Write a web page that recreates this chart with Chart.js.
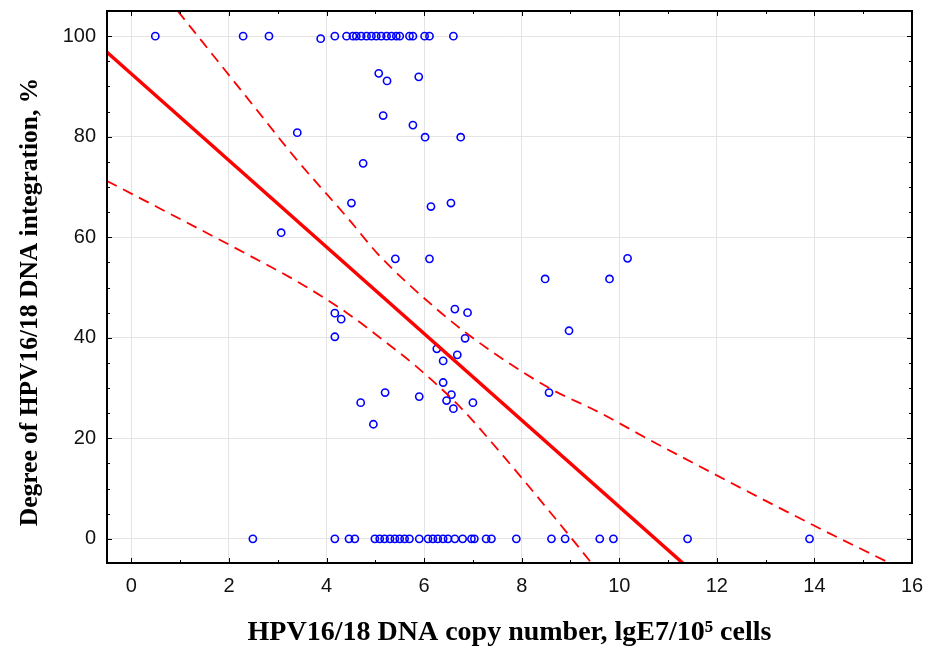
<!DOCTYPE html>
<html>
<head>
<meta charset="utf-8">
<script src="https://cdn.jsdelivr.net/npm/chart.js@4.4.1/dist/chart.umd.min.js"></script>
<style>
    html, body { margin: 0; padding: 0; background: #ffffff; }
    canvas { display: block; }
</style>
</head>
<body>
<canvas id="chart-scatter" width="932" height="653"></canvas>
<script>
// Puntos: número de copias (lg) vs. grado de integración (%)
const copyNumber = [
    // fila superior (100 %)
    0.49, 2.29, 2.82, 3.88, 4.17, 4.41, 4.54, 4.61, 4.71, 4.82, 4.92, 5.02, 5.12, 5.23, 5.33, 5.43, 5.50, 5.70, 5.77, 6.01, 6.11, 6.60,
    // fila inferior (0 %)
    2.49, 4.17, 4.46, 4.58, 4.99, 5.09, 5.19, 5.30, 5.40, 5.50, 5.60, 5.70, 5.90, 6.08, 6.18, 6.28, 6.39, 6.49, 6.63, 6.79, 6.97, 7.03, 7.27, 7.38, 7.89, 8.61, 8.89, 9.60, 9.88, 11.40, 13.90,
    // zona media
    5.07, 5.24, 5.89, 5.16, 5.77, 6.02, 6.75, 3.40, 4.75, 4.51, 6.14, 6.55, 3.07, 5.41, 6.11, 8.48, 6.63, 6.89, 4.17,
    4.30, 4.17, 6.84, 6.26, 6.68, 6.39, 6.39, 6.56, 5.20, 5.90, 6.46, 7.00, 4.70, 6.60, 4.96, 8.56, 9.80, 10.17, 8.97
];
const integration = [
    100, 100, 100, 99.5, 100, 100, 100, 100, 100, 100, 100, 100, 100, 100, 100, 100, 100, 100, 100, 100, 100, 100,
    0, 0, 0, 0, 0, 0, 0, 0, 0, 0, 0, 0, 0, 0, 0, 0, 0, 0, 0, 0, 0, 0, 0, 0, 0, 0, 0, 0, 0, 0, 0,
    92.6, 91.1, 91.9, 84.2, 82.3, 79.9, 79.9, 80.8, 74.7, 66.8, 66.1, 66.8, 60.9, 55.7, 55.7, 51.7, 45.7, 45.0, 44.9,
    43.7, 40.2, 39.9, 37.8, 36.6, 35.4, 31.1, 28.7, 29.1, 28.3, 27.5, 27.1, 27.1, 25.9, 22.8, 29.1, 51.7, 55.8, 41.4
];

// Recta de regresión
const fitX = [-0.5, 11.3];
const fitY = [96.8, -4.8];

// Bandas de confianza
const upperX = [0.95, 2.49, 3.39, 4.47, 5.03, 5.70, 6.87, 8.51, 9.60, 10.62, 13.96, 15.54];
const upperY = [105, 86.3, 75.4, 63.4, 56.9, 50.5, 40.9, 30.3, 25.1, 19.7, 2.8, -4.8];
const lowerX = [-0.5, 2.47, 3.45, 4.41, 5.15, 5.85, 6.73, 7.34, 8.88, 9.43];
const lowerY = [71.2, 56.1, 50.9, 45.0, 39.6, 34.2, 26.3, 19.7, 1.8, -4.8];

// Ejes
const xTickValues = [0, 2, 4, 6, 8, 10, 12, 14, 16];
const yTickValues = [0, 20, 40, 60, 80, 100];
const xTitle = 'HPV16/18 DNA copy number, lgE7/10\u2075 cells';
const yTitle = 'Degree of HPV16/18 DNA integration, %';

function toPoints(xs, ys) {
    return xs.map((x, i) => ({ x: x, y: ys[i] }));
}

const tickFont = { family: "'Liberation Sans', Arial, sans-serif", size: 20 };
const titleFamily = "'Liberation Serif', 'Times New Roman', serif";

// Marco, marcas menores hacia dentro y título vertical
const frameTicks = {
    id: 'frameTicks',
    afterDatasetsDraw(chart) {
        const ctx = chart.ctx;
        const a = chart.chartArea;
        const x = chart.scales.x;
        const y = chart.scales.y;
        ctx.save();
        ctx.strokeStyle = '#000000';
        ctx.lineWidth = 1;
        ctx.beginPath();
        for (let v = Math.ceil(x.min); v <= x.max; v++) {
            const px = Math.round(x.getPixelForValue(v)) + 0.5;
            const len = v % 2 === 0 ? 5 : 3;
            ctx.moveTo(px, a.bottom); ctx.lineTo(px, a.bottom - len);
            ctx.moveTo(px, a.top); ctx.lineTo(px, a.top + len);
        }
        for (let v = Math.ceil(y.min / 5) * 5; v <= y.max; v += 5) {
            const py = Math.round(y.getPixelForValue(v)) + 0.5;
            const len = v % 20 === 0 ? 5 : 3;
            ctx.moveTo(a.left, py); ctx.lineTo(a.left + len, py);
            ctx.moveTo(a.right, py); ctx.lineTo(a.right - len, py);
        }
        ctx.stroke();
        ctx.lineWidth = 2;
        ctx.strokeRect(a.left, a.top, a.right - a.left, a.bottom - a.top);

        // título del eje Y, algo por debajo del centro como en el original
        ctx.translate(30, (a.top + a.bottom) / 2 + 15);
        ctx.rotate(-Math.PI / 2);
        ctx.fillStyle = '#000000';
        ctx.font = 'bold 25.5px ' + titleFamily;
        ctx.textAlign = 'center';
        ctx.textBaseline = 'middle';
        ctx.fillText(yTitle, 0, 0);
        ctx.restore();
    }
};

new Chart(document.getElementById('chart-scatter'), {
    type: 'scatter',
    data: {
        datasets: [
            {
                type: 'line',
                data: toPoints(fitX, fitY),
                borderColor: '#ff0000',
                borderWidth: 3.5,
                pointRadius: 0,
                fill: false
            },
            {
                type: 'line',
                data: toPoints(upperX, upperY),
                borderColor: '#ff0000',
                borderWidth: 1.8,
                borderDash: [11, 7],
                pointRadius: 0,
                cubicInterpolationMode: 'monotone',
                fill: false
            },
            {
                type: 'line',
                data: toPoints(lowerX, lowerY),
                borderColor: '#ff0000',
                borderWidth: 1.8,
                borderDash: [11, 7],
                pointRadius: 0,
                cubicInterpolationMode: 'monotone',
                fill: false
            },
            {
                data: toPoints(copyNumber, integration),
                borderColor: '#0000ff',
                backgroundColor: 'rgba(0, 0, 0, 0)',
                borderWidth: 1.6,
                pointRadius: 3.6
            }
        ]
    },
    options: {
        responsive: false,
        animation: false,
        layout: {
            padding: { top: 11, right: 20, left: 0, bottom: 0 }
        },
        plugins: {
            legend: { display: false },
            tooltip: { enabled: false }
        },
        scales: {
            x: {
                type: 'linear',
                min: -0.5,
                max: 16,
                afterBuildTicks: function(scale) {
                    scale.ticks = xTickValues.map(v => ({ value: v }));
                },
                afterFit: function(scale) {
                    scale.height = 90;
                    scale.paddingLeft = 0;
                    scale.paddingRight = 0;
                },
                grid: { color: '#e4e4e4', drawTicks: false },
                border: { display: false },
                ticks: { padding: 11, font: tickFont, color: '#111111' },
                title: {
                    display: true,
                    text: xTitle,
                    color: '#000000',
                    font: { family: titleFamily, size: 28, weight: 'bold' },
                    padding: { top: 0, bottom: 3 }
                }
            },
            y: {
                type: 'linear',
                min: -4.8,
                max: 105,
                afterBuildTicks: function(scale) {
                    scale.ticks = yTickValues.map(v => ({ value: v }));
                },
                afterFit: function(scale) {
                    scale.width = 107;
                    scale.paddingTop = 0;
                    scale.paddingBottom = 0;
                },
                grid: { color: '#e4e4e4', drawTicks: false },
                border: { display: false },
                ticks: { padding: 11, font: tickFont, color: '#111111' },
                title: { display: false }
            }
        }
    },
    plugins: [frameTicks]
});
</script>
</body>
</html>
